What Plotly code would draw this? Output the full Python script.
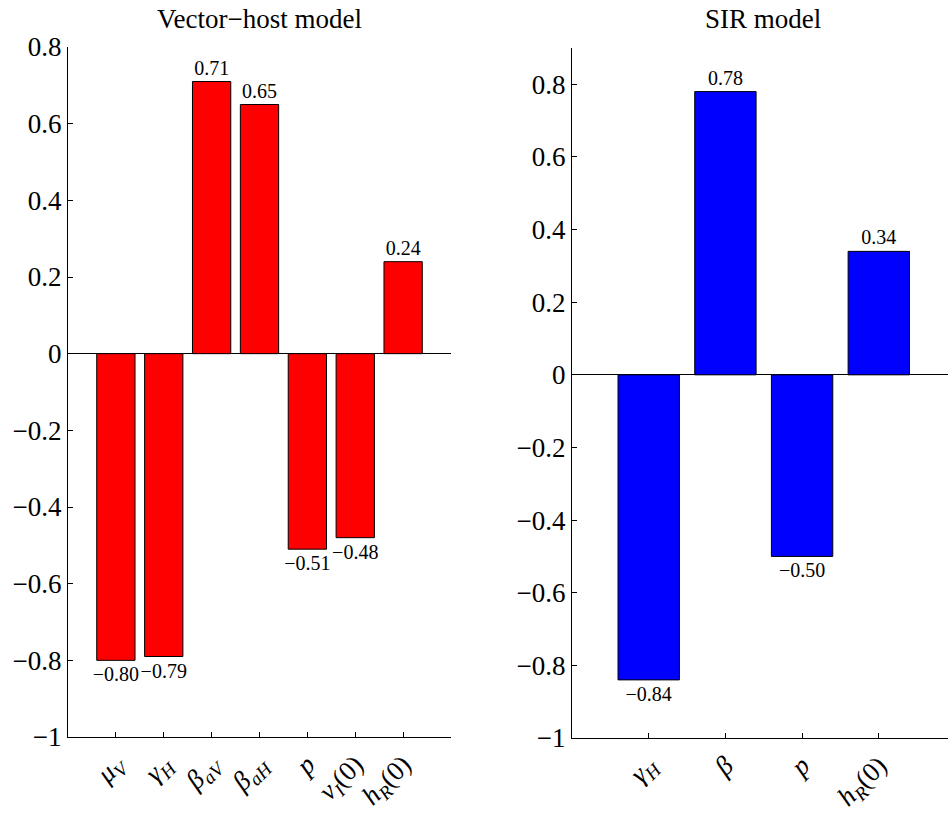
import plotly.graph_objects as go

# ---- data ----
vh_labels = ["<i>μ</i><sub><i>V</i></sub>", "<i>γ</i><sub><i>H</i></sub>",
             "<i>β</i><sub><i>aV</i></sub>", "<i>β</i><sub><i>aH</i></sub>",
             "<i>p</i>", "<i>v</i><sub><i>I</i></sub>(0)", "<i>h</i><sub><i>R</i></sub>(0)"]
vh_values = [-0.80, -0.79, 0.71, 0.65, -0.51, -0.48, 0.24]

sir_labels = ["<i>γ</i><sub><i>H</i></sub>", "<i>β</i>", "<i>p</i>", "<i>h</i><sub><i>R</i></sub>(0)"]
sir_values = [-0.84, 0.78, -0.50, 0.34]

ytick_vals = [0.8, 0.6, 0.4, 0.2, 0, -0.2, -0.4, -0.6, -0.8, -1]
ytick_text = ["0.8", "0.6", "0.4", "0.2", "0", "−0.2", "−0.4", "−0.6", "−0.8", "−1"]

FONT = "Liberation Serif, Times New Roman, serif"
W, H = 948, 818


def fmt(v):
    return f"{v:.2f}".replace("-", "−")


vh_x = list(range(1, len(vh_values) + 1))
sir_x = list(range(1, len(sir_values) + 1))

fig = go.Figure()
fig.add_trace(go.Bar(
    x=vh_x, y=vh_values, width=0.8,
    marker=dict(color="#FF0000", line=dict(color="black", width=1)),
    text=[fmt(v) for v in vh_values], textposition="outside",
    constraintext="none", cliponaxis=False,
    textfont=dict(family=FONT, size=20, color="black"),
    xaxis="x", yaxis="y", showlegend=False, hoverinfo="skip"))
fig.add_trace(go.Bar(
    x=sir_x, y=sir_values, width=0.8,
    marker=dict(color="#0000FF", line=dict(color="black", width=1)),
    text=[fmt(v) for v in sir_values], textposition="outside",
    constraintext="none", cliponaxis=False,
    textfont=dict(family=FONT, size=20, color="black"),
    xaxis="x2", yaxis="y2", showlegend=False, hoverinfo="skip"))

axis_common = dict(showline=True, linecolor="black", linewidth=1,
                   ticks="inside", ticklen=5, tickcolor="black",
                   showgrid=False, automargin=False)
ytickfont = dict(family=FONT, size=27, color="black")
xtickfont = dict(family=FONT, size=27, color="black")

fig.update_layout(
    width=W, height=H,
    margin=dict(l=0, r=0, t=0, b=0),
    paper_bgcolor="white", plot_bgcolor="white",
    font=dict(family=FONT, color="black", size=27),
    xaxis=dict(domain=[68 / W, 451 / W], range=[0, 8], anchor="y",
               tickvals=vh_x, ticktext=vh_labels, tickangle=-45,
               tickfont=xtickfont, zeroline=False, **axis_common),
    yaxis=dict(domain=[(H - 737) / H, (H - 47) / H], range=[-1, 0.8], anchor="x",
               tickvals=ytick_vals, ticktext=ytick_text, tickfont=ytickfont,
               zeroline=True, zerolinecolor="black", zerolinewidth=1,
               **axis_common),
    xaxis2=dict(domain=[572 / W, 1.0], range=[0, 376 / 76.7], anchor="y2",
                tickvals=sir_x, ticktext=sir_labels, tickangle=-45,
                tickfont=xtickfont, zeroline=False, **axis_common),
    yaxis2=dict(domain=[(H - 738) / H, (H - 48) / H], range=[-1, 0.9], anchor="x2",
                tickvals=ytick_vals, ticktext=ytick_text, tickfont=ytickfont,
                zeroline=True, zerolinecolor="black", zerolinewidth=1,
                **axis_common),
    annotations=[
        dict(text="Vector−host model", x=(68 + 451) / 2 / W, y=1 - 19 / H,
             xref="paper", yref="paper", showarrow=False,
             xanchor="center", yanchor="middle",
             font=dict(family=FONT, size=27, color="black")),
        dict(text="SIR model", x=763 / W, y=1 - 19 / H,
             xref="paper", yref="paper", showarrow=False,
             xanchor="center", yanchor="middle",
             font=dict(family=FONT, size=27, color="black")),
    ],
)

fig.write_html("out.html",
               config={"displayModeBar": False},
               post_script="document.body.style.margin='0';document.body.style.padding='0';document.body.style.overflow='hidden';")
